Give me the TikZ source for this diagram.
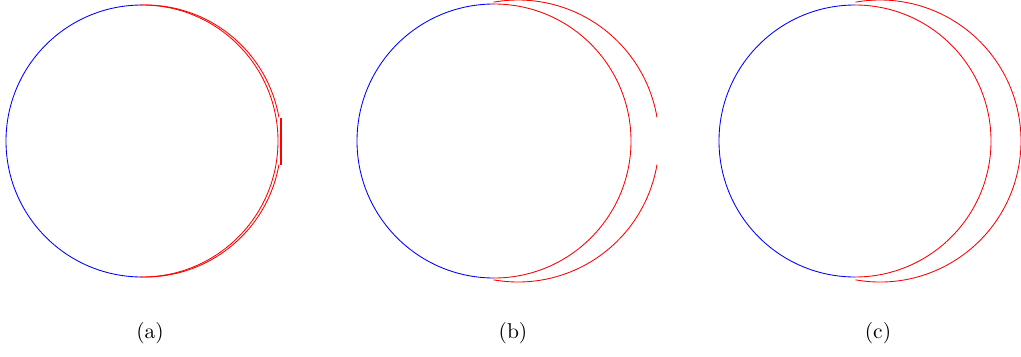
\documentclass[tikz,border=0pt]{standalone}
\usetikzlibrary{calc}
\begin{document}
\begin{tikzpicture}[x=0.01637cm,y=0.01637cm]
  \useasboundingbox (0,0) rectangle (1021,356);

  % (a): offset circle nearly on top of the unit one
  \coordinate (Ca) at (142,215);
  \coordinate (Oa) at (145,215);
  \draw[blue] (Ca) ++(90:136) arc[start angle=90,end angle=270,radius=136];
  \draw[red] (Ca) ++(-90:136) arc[start angle=-90,end angle=90,radius=136];
  \draw[red] (Oa) ++(10:136) arc[start angle=10,end angle=92,radius=136];
  \draw[red] (Oa) ++(-92:136) arc[start angle=-92,end angle=-10,radius=136];
  \coordinate (ga) at (281,238.5);
  \coordinate (ha) at (281,191.5);
  \draw[red,line width=0.6pt] (ga) -- (ha);
  \node (la) at (150,23) {(a)};

  % (b): shifted circle with a gap at the right
  \coordinate (Cb) at (494,215);
  \coordinate (Ob) at (518,215);
  \draw[blue] (Cb) ++(90:137) arc[start angle=90,end angle=270,radius=137];
  \draw[red] (Cb) ++(-90:137) arc[start angle=-90,end angle=90,radius=137];
  \draw[red] (Ob) ++(9.6:141) arc[start angle=9.6,end angle=100,radius=141];
  \draw[red] (Ob) ++(-100:141) arc[start angle=-100,end angle=-9.6,radius=141];
  \node (lb) at (513,23) {(b)};

  % (c): shifted circle, closed
  \coordinate (Cc) at (855,215);
  \coordinate (Oc) at (880,215);
  \draw[blue] (Cc) ++(90:136) arc[start angle=90,end angle=270,radius=136];
  \draw[red] (Cc) ++(-90:136) arc[start angle=-90,end angle=90,radius=136];
  \draw[red] (Oc) ++(-100:141) arc[start angle=-100,end angle=100,radius=141];
  \node (lc) at (878,23) {(c)};
\end{tikzpicture}
\end{document}
